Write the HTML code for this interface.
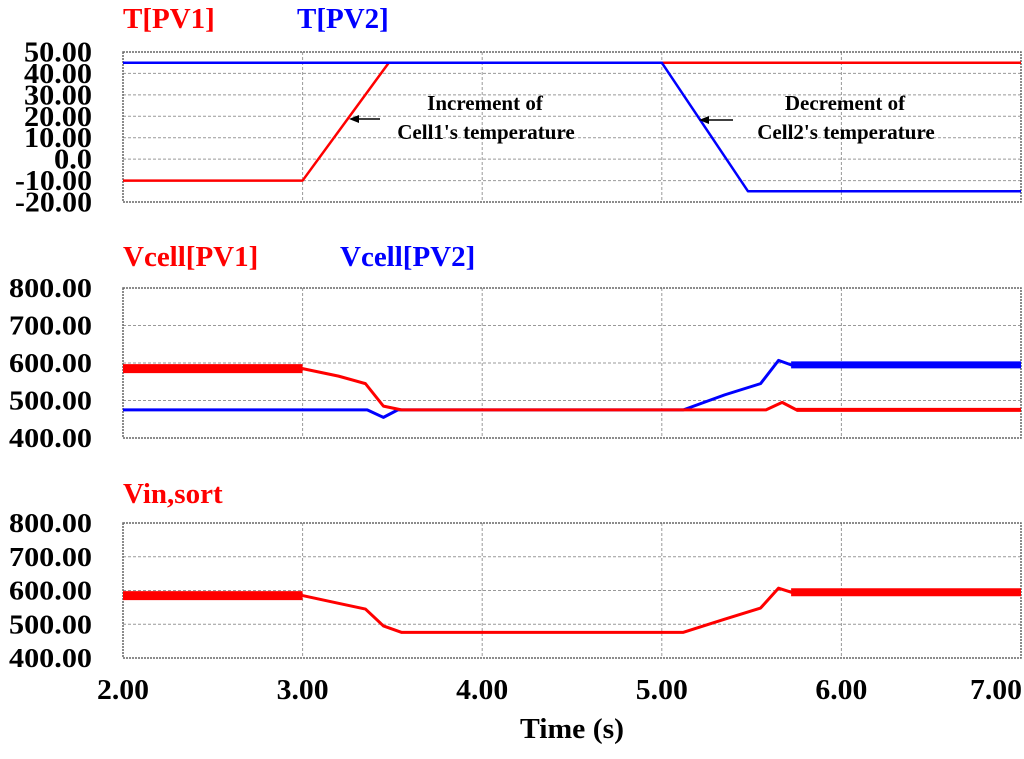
<!DOCTYPE html>
<html><head><meta charset="utf-8"><style>
body{margin:0;background:#fff}
svg text{font-family:"Liberation Serif",serif;font-weight:bold}
</style></head><body>
<svg id="chart" width="1024" height="754" xmlns="http://www.w3.org/2000/svg">
<g id="g"></g>
</svg>
<script>
const tTicks=[2,3,4,5,6,7];
const tTickLabels=["2.00","3.00","4.00","5.00","6.00","7.00"];
const p1Ticks=[50,40,30,20,10,0,-10,-20];
const p1TickLabels=["50.00","40.00","30.00","20.00","10.00","0.0","-10.00","-20.00"];
const vTicks=[800,700,600,500,400];
const vTickLabels=["800.00","700.00","600.00","500.00","400.00"];
const tPV1=[[2,-10],[3,-10],[3.48,45],[7,45]];
const tPV2=[[2,45],[5,45],[5.48,-15],[7,-15]];
const vPV1=[[2,585],[3.0,585],[3.2,565],[3.35,545],[3.45,485],[3.55,475],[5.58,475],[5.67,495],[5.75,475],[7,475]];
const vPV2=[[2,475],[3.36,475],[3.45,455],[3.53,475],[5.12,475],[5.35,515],[5.55,545],[5.65,607],[5.72,595],[7,595]];
const vinSort=[[2,585],[3.0,585],[3.2,562],[3.35,545],[3.45,495],[3.55,476],[5.12,476],[5.35,515],[5.55,548],[5.65,607],[5.72,595],[7,595]];
const pv1Noise=[[2,3.05,9],[5.72,7,4]];
const pv2Noise=[[5.72,7,7]];
const vinNoise=[[2,3.05,9],[5.72,7,8]];

const NS="http://www.w3.org/2000/svg";
const g=document.getElementById('g');
const X0=123,X1=1021;
const xs=t=>X0+(t-2)/(7-2)*(X1-X0);
function mk(tag,attrs,parent){const e=document.createElementNS(NS,tag);for(const k in attrs)e.setAttribute(k,attrs[k]);(parent||g).appendChild(e);return e;}
function tlen(s){let w=0;for(const c of s){w+=(c==='.')?8:(c==='-'?9:15);}return w;}
function panel(name,top,bot,vmin,vmax,ticks,labels,fs){
  const ys=v=>bot-(v-vmin)/(vmax-vmin)*(bot-top);
  const pg=mk('g',{});
  
  
  ticks.forEach((v,i)=>{
    if(v!==vmin&&v!==vmax){const l=mk('line',{x1:X0,x2:X1,y1:ys(v),y2:ys(v),stroke:'#999','stroke-width':1,'stroke-dasharray':'3,2'},pg);
    }
    const tx=mk('text',{x:92,y:ys(v)+fs*0.34,'text-anchor':'end','font-size':fs,fill:'#000',textLength:tlen(labels[i]),lengthAdjust:'spacingAndGlyphs'},pg);
    tx.textContent=labels[i];
    
    
  });
  tTicks.forEach(t=>{if(t>2&&t<7){const l=mk('line',{x1:xs(t),x2:xs(t),y1:top,y2:bot,stroke:'#999','stroke-width':1,'stroke-dasharray':'3,2'},pg);
    }});
  const r=mk('rect',{x:X0,y:top,width:X1-X0,height:bot-top,fill:'none',stroke:'#666','stroke-width':1.5,'stroke-dasharray':'2,1'},pg);
  
  return ys;
}
function series(ys,data,color,w,name,noise){
  const pts=data.map(d=>xs(d[0])+','+ys(d[1])).join(' ');
  const p=mk('polyline',{points:pts,fill:'none',stroke:color,'stroke-width':w,'stroke-linejoin':'round'});
  
  
  (noise||[]).forEach(n=>{
    const seg=data.filter(d=>d[0]>=n[0]&&d[0]<=n[1]);
    const pts2=seg.map(d=>xs(d[0])+','+ys(d[1])).join(' ');
    const q=mk('polyline',{points:pts2,fill:'none',stroke:color,'stroke-width':n[2]});
    
    
  });
}
function label(x,y,txt,color,fs,name,anchor){
  const t=mk('text',{x:x,y:y,'font-size':fs,fill:color,'text-anchor':anchor||'start'});
  t.textContent=txt;
  
  
}
// panel 1
const y1=panel('temperature',52,202,-20,50,p1Ticks,p1TickLabels,28);
series(y1,tPV1,'#ff0000',2.5,'t-pv1-line');
series(y1,tPV2,'#0000ff',2.5,'t-pv2-line');
label(123,28,'T[PV1]','#ff0000',29,'legend-t-pv1');
label(297,28,'T[PV2]','#0000ff',29,'legend-t-pv2');
label(485,110,'Increment of','#000',21,'annotation-increment','middle');
label(486,139,"Cell1's temperature",'#000',21,'annotation-cell1','middle');
label(845,110,'Decrement of','#000',21,'annotation-decrement','middle');
label(846,139,"Cell2's temperature",'#000',21,'annotation-cell2','middle');
function arrow(xa,xb,y,name){
  const l=mk('line',{x1:xa,y1:y,x2:xb+8,y2:y,stroke:'#000','stroke-width':1.5});
  
  const h=mk('polygon',{points:`${xb},${y} ${xb+10},${y-4} ${xb+10},${y+4}`,fill:'#000'});
  
}
arrow(380,349,119,'arrow-cell1');
arrow(733,699,120,'arrow-cell2');
// panel 2
const y2=panel('vcell',288,438,400,800,vTicks,vTickLabels,27);
series(y2,vPV2,'#0000ff',3,'vcell-pv2-line',pv2Noise);
series(y2,vPV1,'#ff0000',3,'vcell-pv1-line',pv1Noise);
label(123,266,'Vcell[PV1]','#ff0000',29,'legend-vcell-pv1');
label(340,266,'Vcell[PV2]','#0000ff',29,'legend-vcell-pv2');
// panel 3
const y3=panel('vin-sort',523,658,400,800,vTicks,vTickLabels,27);
series(y3,vinSort,'#ff0000',3,'vin-sort-line',vinNoise);
label(123,503,'Vin,sort','#ff0000',29,'legend-vin-sort');
// x axis
tTicks.forEach((t,i)=>{
  const tx=mk('text',{x:Math.min(xs(t),996),y:699,'text-anchor':'middle','font-size':28,fill:'#000',textLength:52,lengthAdjust:'spacingAndGlyphs'});
  tx.textContent=tTickLabels[i];
  
  
});
const xt=mk('text',{x:572,y:738,'font-size':28,fill:'#000','text-anchor':'middle',textLength:104,lengthAdjust:'spacingAndGlyphs'});
xt.textContent='Time (s)';


</script>
</body></html>
